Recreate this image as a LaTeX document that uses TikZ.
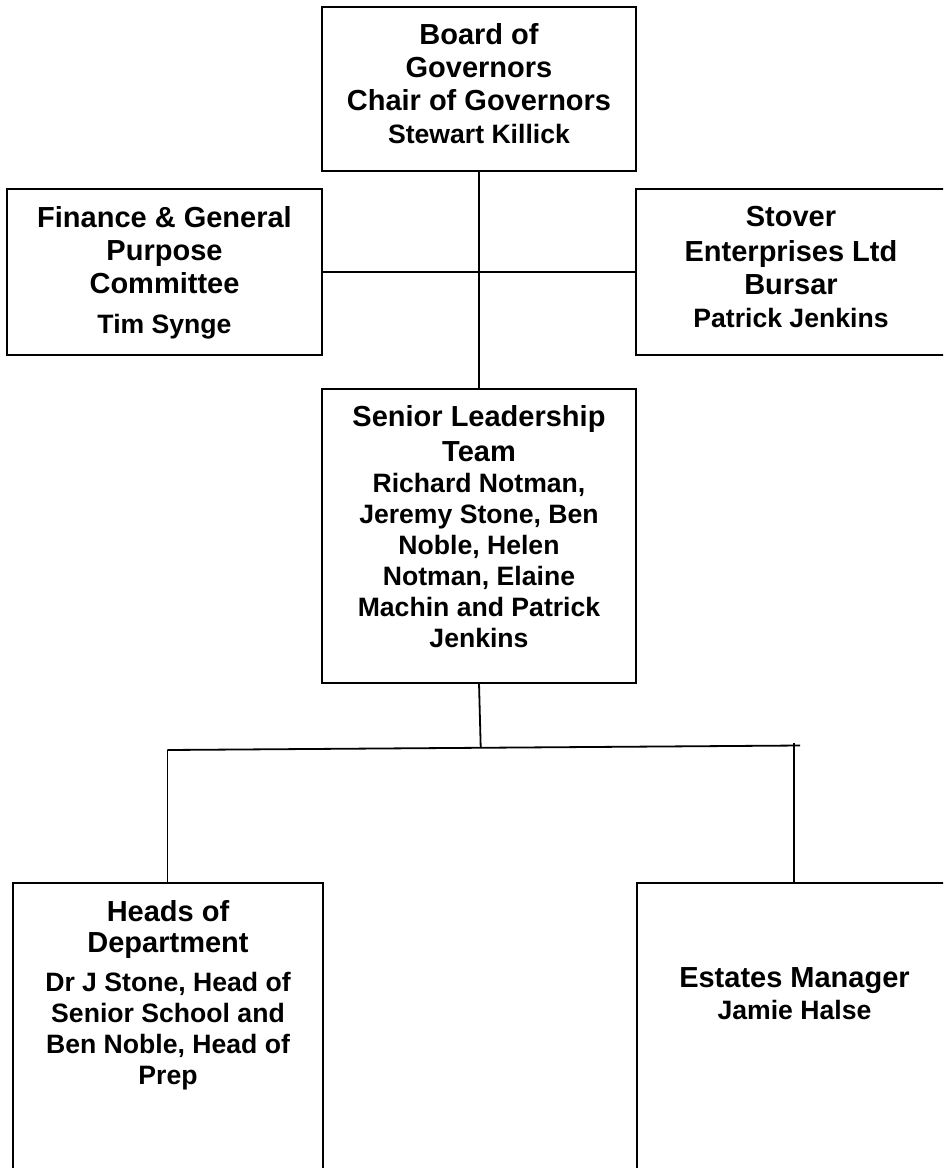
\documentclass[tikz,border=0pt]{standalone}
\usepackage{fontspec}
\setmainfont{Liberation Sans}
\newcommand\Lf{\fontsize{29}{33}\selectfont}
\newcommand\Sf{\fontsize{26.6}{31}\selectfont}
\tikzset{
  box/.style={draw=black, line width=2pt, rectangle, inner sep=0pt, outer sep=0pt},
  txt/.style={align=center, inner sep=0pt, font=\bfseries},
  conn/.style={draw=black, line width=1.8pt}
}
\begin{document}
\begin{tikzpicture}[x=1pt,y=-1pt]
\useasboundingbox (0,0) rectangle (943,1168);
\clip (0,0) rectangle (943,1168);
\fill[white] (0,0) rectangle (943,1168);
% boxes
\node[box, minimum width=314pt, minimum height=164pt] (board) at (479,89) {};
\node[box, minimum width=315pt, minimum height=166pt] (fin) at (164.5,272) {};
\node[box, minimum width=316pt, minimum height=166pt] (stov) at (794,272) {};
\node[box, minimum width=314pt, minimum height=294pt] (slt) at (479,536) {};
\node[box, minimum width=310pt, minimum height=307pt] (hod) at (168,1036.5) {};
\node[box, minimum width=315pt, minimum height=307pt] (est) at (794.5,1036.5) {};
% texts
\node[txt, font=\bfseries\Lf] (tboard) at (479,83.5) {Board of\\Governors\\Chair of Governors\\{\Sf Stewart Killick}};
\node[txt, font=\bfseries\Lf] (tfin) at (164.5,272.7) {Finance \& General\\Purpose\\Committee\\[7pt]{\Sf Tim Synge}};
\node[txt, font=\bfseries\Lf] (tstov) at (791,267) {Stover\\[2pt]Enterprises Ltd\\Bursar\\{\Sf Patrick Jenkins}};
\node[txt, font=\bfseries\Sf] (tslt) at (479,526.5) {{\Lf Senior Leadership}\\[4pt]{\Lf Team}\\Richard Notman,\\Jeremy Stone, Ben\\Noble, Helen\\Notman, Elaine\\Machin and Patrick\\Jenkins};
\node[txt, font=\bfseries\Sf] (thod) at (168,995.7) {{\Lf Heads of}\\{\Lf Department}\\[8pt]Dr J Stone, Head of\\Senior School and\\Ben Noble, Head of\\Prep};
\node[txt, font=\bfseries\Sf] (test) at (794.5,993.5) {{\Lf Estates Manager}\\[1pt]Jamie Halse};
% junction points
\coordinate (j1) at (480.7,747);
\coordinate (jl) at (167.5,750);
\coordinate (jr) at (800,745.5);
\coordinate (jrt) at (794.3,743);
% connectors
\draw[conn] (board.south) -- (slt.north);
\draw[conn] (fin.east) -- (stov.west);
\draw[conn] (slt.south) -- (j1);
\draw[conn] (jl) -- (jr);
\draw[conn] (jl) -- (jl |- hod.north);
\draw[conn] (jrt) -- (jrt |- est.north);
\end{tikzpicture}
\end{document}
